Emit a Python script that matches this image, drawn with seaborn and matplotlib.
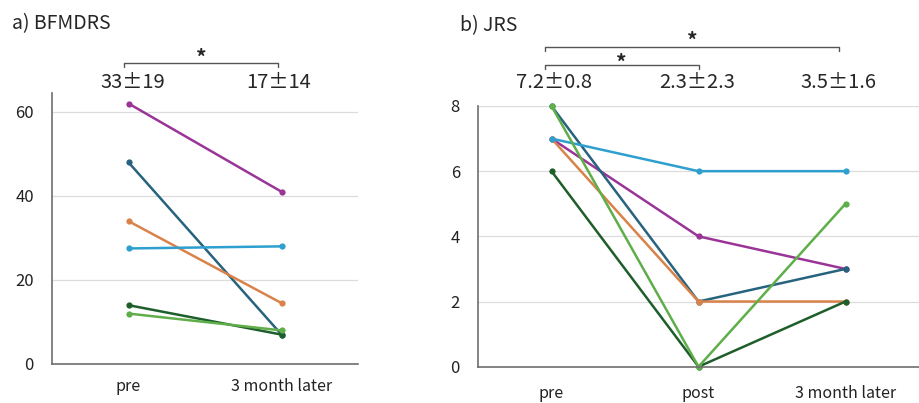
import pandas as pd
import matplotlib.pyplot as plt
import seaborn as sns
from matplotlib.transforms import blended_transform_factory

# subjects (same colour in both panels)
subjects = ['s1', 's2', 's3', 's4', 's5', 's6']
colors = ['#9a3597', '#27637f', '#d9824a', '#2e9fcf', '#1e5e2a', '#5fae4a']

# a) BFMDRS
bfm_times = ['pre', '3 month later']
bfm_pre = [62, 48, 34, 27.5, 14, 12]
bfm_3m = [41, 7, 14.5, 28, 7, 8]
bfm_labels = ['33\u00b119', '17\u00b114']

# b) JRS
jrs_times = ['pre', 'post', '3 month later']
jrs_pre = [7, 8, 7, 7, 6, 8]
jrs_post = [4, 2, 2, 6, 0, 0]
jrs_3m = [3, 3, 2, 6, 2, 5]
jrs_labels = ['7.2\u00b10.8', '2.3\u00b12.3', '3.5\u00b11.6']

W, H = 919, 403


def long_df(times, cols):
    rows = []
    for t, vals in zip(times, cols):
        for s, v in zip(subjects, vals):
            rows.append({'subject': s, 'time': t, 'score': v})
    return pd.DataFrame(rows)


def fy(px):
    return 1 - px / H


def style_ax(ax, xpad):
    ax.grid(axis='y', color='#dcdcdc', linewidth=0.9)
    ax.grid(axis='x', visible=False)
    for side in ['top', 'right']:
        ax.spines[side].set_visible(False)
    for side in ['left', 'bottom']:
        ax.spines[side].set_color('#6e6e6e')
        ax.spines[side].set_linewidth(1.2)
    ax.tick_params(axis='both', length=0, colors='#222222')
    ax.tick_params(axis='y', pad=13, labelsize=12)
    ax.tick_params(axis='x', pad=xpad, labelsize=11.5)
    ax.set_xlabel('')
    ax.set_ylabel('')
    if ax.get_legend():
        ax.get_legend().remove()


def bracket(ax, x0, x1, ypx, star_ypx):
    tr = blended_transform_factory(ax.transData, fig.transFigure)
    ax.plot([x0, x0, x1, x1], [fy(ypx + 4), fy(ypx), fy(ypx), fy(ypx + 4)],
            color='#555555', lw=1, transform=tr, clip_on=False)
    ax.text((x0 + x1) / 2, fy(star_ypx + 5), '*', transform=tr, ha='center',
            va='center', fontsize=15, fontweight='bold')


sns.set_style('white')
plt.rcParams['font.family'] = ['Noto Sans CJK JP', 'DejaVu Sans']

fig = plt.figure(figsize=(W / 100, H / 100), dpi=100)
ax1 = fig.add_axes([52 / W, 1 - 364 / H, 306 / W, 271 / H])
ax2 = fig.add_axes([478 / W, 1 - 366.7 / H, 441 / W, 260.7 / H])

pal = dict(zip(subjects, colors))

sns.lineplot(data=long_df(bfm_times, [bfm_pre, bfm_3m]), x='time', y='score',
             hue='subject', palette=pal, marker='o', markersize=4.5,
             markeredgewidth=0, linewidth=1.8, ax=ax1, sort=False)
ax1.set_xlim(-0.5, 1.5)
ax1.set_ylim(0, 64.5)
ax1.set_yticks([0, 20, 40, 60])
style_ax(ax1, 10)

sns.lineplot(data=long_df(jrs_times, [jrs_pre, jrs_post, jrs_3m]), x='time',
             y='score', hue='subject', palette=pal, marker='o', markersize=4.5,
             markeredgewidth=0, linewidth=1.8, ax=ax2, sort=False)
ax2.set_xlim(-0.5, 2.5)
ax2.set_ylim(0, 8)
ax2.set_yticks([0, 2, 4, 6, 8])
style_ax(ax2, 13)
for ln in ax2.lines + ax1.lines:
    ln.set_clip_on(False)

# titles
fig.text(12 / W, fy(24), 'a) BFMDRS', fontsize=14, va='center', ha='left')
fig.text(460 / W, fy(26), 'b) JRS', fontsize=14, va='center', ha='left')

# mean +- sd labels
tr1 = blended_transform_factory(ax1.transData, fig.transFigure)
for x, lab in zip([0.03, 0.98], bfm_labels):
    ax1.text(x, fy(82), lab, transform=tr1, ha='center', va='center', fontsize=14.5)
tr2 = blended_transform_factory(ax2.transData, fig.transFigure)
for x, lab in zip([0.02, 0.99, 1.95], jrs_labels):
    ax2.text(x, fy(83), lab, transform=tr2, ha='center', va='center', fontsize=14.5)

bracket(ax1, -0.03, 0.98, 63, 53)
bracket(ax2, -0.045, 1.956, 47, 36)
bracket(ax2, -0.045, 1.0, 65, 58)

fig.savefig('out.png', dpi=100)
